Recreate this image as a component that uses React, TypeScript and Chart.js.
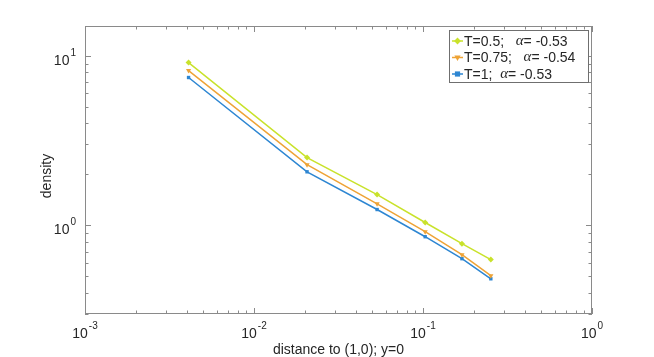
import React, { useEffect, useRef } from "react";
import { Chart, registerables } from "chart.js";

Chart.register(...registerables);

const distances = [0.0041, 0.0206, 0.0535, 0.103, 0.17, 0.252];
const densityT05 = [9.13, 2.51, 1.52, 1.04, 0.78, 0.628];
const densityT075 = [8.19, 2.28, 1.34, 0.918, 0.671, 0.505];
const densityT1 = [7.45, 2.07, 1.24, 0.857, 0.636, 0.484];
const seriesLabels = ["T=0.5;   α= -0.53", "T=0.75;   α= -0.54", "T=1;  α= -0.53"];
const seriesColors = ["#c9e22b", "#eea336", "#2d86d2"];
const seriesMarkers = ["rectRot", "triangle", "rect"];
const xDecadeExps = [-3, -2, -1, 0];
const yDecadeExps = [0, 1];
const xTitle = "distance to (1,0); y=0";
const yTitle = "density";

const FONT = "'Liberation Sans', Arial, Helvetica, sans-serif";
const TEXT = "#262626";
const AXIS = "#8a8a8a";

const frame = {
  id: "matlabFrame",
  afterDraw(chart: any) {
    const ctx = chart.ctx;
    const { left, right, top, bottom } = chart.chartArea;
    const xs = chart.scales.x;
    const ys = chart.scales.y;
    ctx.save();
    // box
    ctx.strokeStyle = AXIS;
    ctx.lineWidth = 1;
    ctx.strokeRect(left + 0.5, top + 0.5, right - left - 1, bottom - top - 1);
    // x ticks
    ctx.beginPath();
    for (let e = -4; e <= 1; e++) {
      for (let m = 1; m <= 9; m++) {
        const v = m * Math.pow(10, e);
        if (v < xs.min * 0.999 || v > xs.max * 1.001) continue;
        const px = Math.round(xs.getPixelForValue(v)) + 0.5;
        const len = m === 1 ? 6 : 3.5;
        ctx.moveTo(px, bottom);
        ctx.lineTo(px, bottom - len);
        ctx.moveTo(px, top);
        ctx.lineTo(px, top + len);
      }
    }
    for (let e = -2; e <= 2; e++) {
      for (let m = 1; m <= 9; m++) {
        const v = m * Math.pow(10, e);
        if (v < ys.min * 0.999 || v > ys.max * 1.001) continue;
        const py = Math.round(ys.getPixelForValue(v)) + 0.5;
        const len = m === 1 ? 6 : 3.5;
        ctx.moveTo(left, py);
        ctx.lineTo(left + len, py);
        ctx.moveTo(right, py);
        ctx.lineTo(right - len, py);
      }
    }
    ctx.stroke();

    // tick labels
    ctx.fillStyle = TEXT;
    const big = `14px ${FONT}`;
    const small = `10px ${FONT}`;
    xDecadeExps.forEach((e) => {
      const px = xs.getPixelForValue(Math.pow(10, e));
      ctx.font = big;
      const w1 = ctx.measureText("10").width;
      ctx.font = small;
      const w2 = ctx.measureText(String(e)).width;
      const x0 = px - (w1 + w2 + 1) / 2;
      ctx.textBaseline = "alphabetic";
      ctx.textAlign = "left";
      ctx.font = big;
      ctx.fillText("10", x0, bottom + 24);
      ctx.font = small;
      ctx.fillText(String(e), x0 + w1 + 1, bottom + 15);
    });
    yDecadeExps.forEach((e) => {
      const py = ys.getPixelForValue(Math.pow(10, e));
      ctx.font = small;
      const w2 = ctx.measureText(String(e)).width;
      ctx.font = big;
      const w1 = ctx.measureText("10").width;
      const xEnd = left - 9;
      ctx.textAlign = "left";
      ctx.textBaseline = "alphabetic";
      ctx.fillText("10", xEnd - w2 - 1 - w1, py + 9);
      ctx.font = small;
      ctx.fillText(String(e), xEnd - w2, py);
    });

    // axis titles
    ctx.font = `14px ${FONT}`;
    ctx.textAlign = "center";
    ctx.textBaseline = "middle";
    ctx.fillText(xTitle, (left + right) / 2, bottom + 36);
    ctx.save();
    ctx.translate(47, (top + bottom) / 2 + 6);
    ctx.rotate(-Math.PI / 2);
    ctx.fillText(yTitle, 0, 0);
    ctx.restore();

    // legend
    const lx = 449;
    const ly = 30;
    const lw = 139;
    const lh = 52;
    ctx.fillStyle = "#ffffff";
    ctx.fillRect(lx, ly, lw, lh);
    ctx.strokeStyle = "#6f6f6f";
    ctx.lineWidth = 1;
    ctx.strokeRect(lx + 0.5, ly + 0.5, lw, lh);
    chart.data.datasets.forEach((ds: any, i: number) => {
      const cy = ly + 11 + i * 16.5;
      ctx.strokeStyle = ds.borderColor;
      ctx.lineWidth = 1.5;
      ctx.beginPath();
      ctx.moveTo(lx + 3, cy);
      ctx.lineTo(lx + 14, cy);
      ctx.stroke();
      ctx.fillStyle = ds.borderColor;
      (Chart as any).helpers
        ? null
        : null;
      drawMarker(ctx, ds.pointStyle, lx + 8.5, cy, 2.6, ds.pointRotation || 0);
      const label: string = ds.label;
      const parts = label.split("α");
      let tx = lx + 15;
      ctx.fillStyle = TEXT;
      ctx.textAlign = "left";
      ctx.textBaseline = "middle";
      ctx.font = `14px ${FONT}`;
      ctx.fillText(parts[0], tx, cy + 1);
      tx += ctx.measureText(parts[0]).width;
      ctx.font = `italic 15px 'Liberation Serif', 'Times New Roman', serif`;
      ctx.fillText("α", tx, cy);
      tx += ctx.measureText("α").width;
      ctx.font = `14px ${FONT}`;
      ctx.fillText(parts[1] || "", tx, cy + 1);
    });
    ctx.restore();
  },
};

function drawMarker(ctx: any, style: string, x: number, y: number, r: number, rot: number) {
  ctx.beginPath();
  if (style === "rect") {
    ctx.rect(x - r, y - r, 2 * r, 2 * r);
  } else if (style === "rectRot") {
    ctx.moveTo(x, y - r * 1.3);
    ctx.lineTo(x + r * 1.3, y);
    ctx.lineTo(x, y + r * 1.3);
    ctx.lineTo(x - r * 1.3, y);
    ctx.closePath();
  } else {
    const s = rot === 180 ? -1 : 1;
    ctx.moveTo(x, y - s * r * 1.3);
    ctx.lineTo(x + r * 1.2, y + s * r * 0.8);
    ctx.lineTo(x - r * 1.2, y + s * r * 0.8);
    ctx.closePath();
  }
  ctx.fill();
}

export default function App() {
  const ref = useRef<HTMLCanvasElement | null>(null);
  useEffect(() => {
    if (!ref.current) return;
    const series = [densityT05, densityT075, densityT1];
    const chart = new Chart(ref.current, {
      type: "line",
      data: {
        datasets: series.map((vals, i) => ({
          label: seriesLabels[i],
          data: distances.map((d, j) => ({ x: d, y: vals[j] })),
          borderColor: seriesColors[i],
          backgroundColor: seriesColors[i],
          borderWidth: 1.5,
          pointStyle: seriesMarkers[i] as any,
          pointRotation: i === 1 ? 180 : 0,
          pointRadius: i === 2 ? 2.4 : 3,
          pointBorderWidth: 0,
          tension: 0,
        })),
      },
      options: {
        animation: false,
        responsive: false,
        devicePixelRatio: 1,
        layout: { padding: { top: 26, right: 62, left: 0, bottom: 0 } },
        plugins: { legend: { display: false }, tooltip: { enabled: false } },
        scales: {
          x: {
            type: "logarithmic",
            min: 0.001,
            max: 1,
            grid: { display: false },
            border: { display: false },
            ticks: { display: false },
            afterFit: (s: any) => {
              s.height = 43;
            },
          },
          y: {
            type: "logarithmic",
            min: 0.3,
            max: 15,
            grid: { display: false },
            border: { display: false },
            ticks: { display: false },
            afterFit: (s: any) => {
              s.width = 85;
            },
          },
        },
      },
      plugins: [frame],
    });
    return () => chart.destroy();
  }, []);
  return (
    <div style={{ position: "absolute", left: 0, top: 0, width: 654, height: 357, background: "#fff" }}>
      <canvas ref={ref} width={654} height={357} style={{ width: 654, height: 357 }} />
    </div>
  );
}
